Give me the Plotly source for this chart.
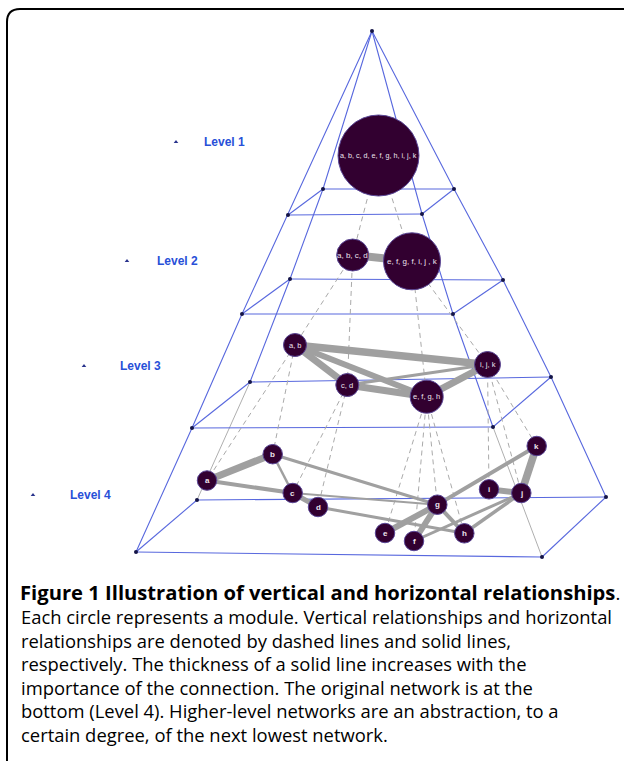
import plotly.graph_objects as go

W, H = 624, 761

# ---------------- data ----------------
apex = (372, 31)
# pyramid plane corners per level (Level 1..4): back-left, back-right, front-left, front-right
corner_bl = [(323, 189), (290, 279), (250, 382), (197, 500)]
corner_br = [(454, 189), (503, 280), (551, 377), (606, 497)]
corner_fl = [(288, 215), (242, 314), (192, 428), (136, 552)]
corner_fr = [(422, 214), (453, 314), (493, 427), (542, 557)]

level_names = ["Level 1", "Level 2", "Level 3", "Level 4"]
level_label_x = [202, 155, 118, 68]
level_label_y = [142, 261, 366, 495]
level_marker_x = [176, 127, 84, 33]

node_ids = ["L1", "abcd", "efgfijk", "ab", "cd", "efgh", "ijk",
            "a", "b", "c", "d", "e", "f", "g", "h", "i", "j", "k"]
node_labels = ["a, b, c, d, e, f, g, h, i, j, k", "a, b, c, d", "e, f, g, f, i, j , k",
               "a, b", "c, d", "e, f, g, h", "i, j, k",
               "a", "b", "c", "d", "e", "f", "g", "h", "i", "j", "k"]
node_x = [378.5, 352.7, 412, 295, 347.3, 426.7, 487.5,
          207, 272.7, 292.7, 318, 385, 414, 437.3, 464.3, 489, 521.3, 536.7]
node_y = [155.5, 255, 261.3, 345, 385, 396.7, 364.5,
          480.5, 454.2, 493, 507, 533, 541, 504.7, 533.3, 489.3, 493, 446]
node_size = [81, 32, 57, 23, 23, 33, 26,
             19.5, 19.5, 19.5, 19.5, 19.5, 19.5, 19.5, 19.5, 19.5, 19.5, 19.5]
node_font = [7.2, 8, 8, 7.5, 7.5, 7.5, 7.5,
             8, 8, 8, 8, 8, 8, 8, 8, 8, 8, 8]
node_bold = [False, False, False, False, False, False, False,
             True, True, True, True, True, True, True, True, True, True, True]

# horizontal relationships (solid) : source, target, thickness
h_src = ["abcd", "ab", "ab", "ab", "cd", "cd", "efgh",
         "a", "a", "b", "b", "c", "c", "d", "g", "g", "g", "g", "f", "h", "i", "j"]
h_dst = ["efgfijk", "ijk", "cd", "efgh", "efgh", "ijk", "ijk",
         "b", "c", "c", "g", "d", "g", "h", "e", "f", "h", "k", "j", "j", "j", "k"]
h_w = [8, 7.5, 7, 6, 7, 3, 7,
       7, 4, 2.5, 3, 5, 2, 3, 6, 6, 4, 4, 3, 3.5, 6, 7.5]

# vertical relationships (dashed) : parent, child
v_src = ["L1", "L1", "abcd", "abcd", "efgfijk", "efgfijk",
         "ab", "ab", "cd", "cd", "efgh", "efgh", "efgh", "efgh", "ijk", "ijk", "ijk"]
v_dst = ["abcd", "efgfijk", "ab", "cd", "efgh", "ijk",
         "a", "b", "c", "d", "e", "f", "g", "h", "i", "j", "k"]

caption_title = "Figure 1 Illustration of vertical and horizontal relationships"
caption_lines = [
    "Each circle represents a module. Vertical relationships and horizontal",
    "relationships are denoted by dashed lines and solid lines,",
    "respectively. The thickness of a solid line increases with the",
    "importance of the connection. The original network is at the",
    "bottom (Level 4). Higher-level networks are an abstraction, to a",
    "certain degree, of the next lowest network.",
]
caption_title_y = 592
caption_y = [616, 640, 663, 687, 710, 734]

# ---------------- styles ----------------
BLUE = "rgb(88,104,222)"
GRAYLINE = "rgb(175,175,175)"
EDGE = "rgb(160,160,160)"
NODE = "rgb(50,0,48)"
DOT = "rgb(20,20,70)"
LABEL_BLUE = "rgb(40,80,216)"

fig = go.Figure()

def seg_trace(points_list, color, width, dash=None):
    xs, ys = [], []
    for pts in points_list:
        for p in pts:
            xs.append(p[0]); ys.append(p[1])
        xs.append(None); ys.append(None)
    line = dict(color=color, width=width)
    if dash:
        line["dash"] = dash
    return go.Scatter(x=xs, y=ys, mode="lines", line=line, hoverinfo="skip")

# pyramid frame
blue_paths = []
blue_paths.append([apex] + corner_fl)
blue_paths.append([apex] + corner_bl[:3])
blue_paths.append([apex] + corner_br)
blue_paths.append([apex] + corner_fr[:3])
for i in range(4):
    blue_paths.append([corner_bl[i], corner_br[i]])
    blue_paths.append([corner_fl[i], corner_fr[i]])
    blue_paths.append([corner_bl[i], corner_fl[i]])
    blue_paths.append([corner_br[i], corner_fr[i]])
gray_paths = [[corner_bl[2], corner_bl[3]], [corner_fr[2], corner_fr[3]]]

fig.add_trace(seg_trace(gray_paths, GRAYLINE, 1))
fig.add_trace(seg_trace(blue_paths, BLUE, 1.1))

# dashed vertical relationships
pos = {n: (x, y) for n, x, y in zip(node_ids, node_x, node_y)}
dash_paths = [[pos[s], pos[d]] for s, d in zip(v_src, v_dst)]
fig.add_trace(seg_trace(dash_paths, "rgb(170,170,170)", 1, dash="5px,4px"))

# corner dots
dots = [apex] + corner_bl + corner_br + corner_fl + corner_fr
fig.add_trace(go.Scatter(x=[p[0] for p in dots], y=[p[1] for p in dots], mode="markers",
                         marker=dict(size=4, color=DOT, opacity=1), hoverinfo="skip"))

# horizontal relationships
for s, d, w in zip(h_src, h_dst, h_w):
    fig.add_trace(go.Scatter(x=[pos[s][0], pos[d][0]], y=[pos[s][1], pos[d][1]], mode="lines",
                             line=dict(color=EDGE, width=w), hoverinfo="skip"))

# nodes
fig.add_trace(go.Scatter(x=node_x, y=node_y, mode="markers",
                         marker=dict(size=node_size, color=NODE, opacity=1,
                                     line=dict(color="rgb(90,70,150)", width=1)),
                         hoverinfo="skip"))
for lab, x, y, fs, b in zip(node_labels, node_x, node_y, node_font, node_bold):
    fig.add_annotation(x=x, y=y, text=("<b>" + lab + "</b>") if b else lab, showarrow=False,
                       font=dict(family="Liberation Sans, Arial", size=fs, color="rgb(238,228,238)"),
                       xanchor="center", yanchor="middle")

# level labels
fig.add_trace(go.Scatter(x=level_marker_x, y=level_label_y, mode="markers",
                         marker=dict(symbol="triangle-up", size=4, color="rgb(40,50,140)", opacity=1),
                         hoverinfo="skip"))
for name, x, y in zip(level_names, level_label_x, level_label_y):
    fig.add_annotation(x=x, y=y, text="<b>" + name + "</b>", showarrow=False,
                       font=dict(family="Liberation Sans, Arial", size=12, color=LABEL_BLUE),
                       xanchor="left", yanchor="middle")

# caption
fig.add_annotation(x=18, y=caption_title_y,
                   text="<b>" + caption_title + "</b><span style='font-size:18.4px'>.</span>",
                   showarrow=False, font=dict(family="Open Sans", size=20.2, color="black"),
                   xanchor="left", yanchor="middle")
for t, y in zip(caption_lines, caption_y):
    fig.add_annotation(x=19, y=y, text=t, showarrow=False,
                       font=dict(family="Open Sans", size=18.4, color="black"),
                       xanchor="left", yanchor="middle")

# frame with rounded top-left corner
fig.add_shape(type="path", path="M 7 800 L 7 22 Q 7 9 20 9 L 640 9",
              line=dict(color="black", width=2))

fig.update_layout(
    width=W, height=H, margin=dict(l=0, r=0, t=0, b=0),
    paper_bgcolor="white", plot_bgcolor="white", showlegend=False,
    xaxis=dict(range=[0, W], visible=False, fixedrange=True),
    yaxis=dict(range=[H, 0], visible=False, fixedrange=True),
    hovermode=False,
)

fig.write_html("out.html", config={"displayModeBar": False},
               post_script="document.body.style.margin='0';document.body.style.overflow='hidden';")
